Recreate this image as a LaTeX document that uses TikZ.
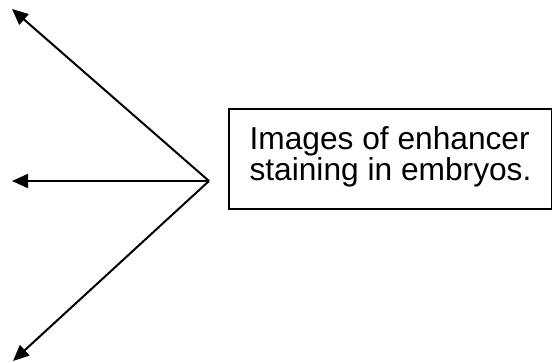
\documentclass[tikz,border=0pt]{standalone}
\usepackage{fontspec}
\setmainfont{Liberation Sans}
\usetikzlibrary{arrows.meta}
\begin{document}
\begin{tikzpicture}[x=1pt,y=-1pt,
  pointer/.style={line width=2pt,-{Triangle[length=16pt,width=14pt]}},
  caption/.style={draw,line width=2pt,rectangle,align=left,
    inner xsep=20pt,inner ysep=0pt,minimum width=323pt,minimum height=100pt,
    font=\fontsize{31.7}{31}\selectfont,text height=54pt,text depth=12pt}]
\useasboundingbox (0,0) rectangle (552,362);
% point where the three arrows meet
\coordinate (hub) at (209,181);
\coordinate (up) at (12,9);
\coordinate (left) at (12,181);
\coordinate (down) at (13,361);
\draw[pointer] (hub) -- (up);
\draw[pointer] (hub) -- (left);
\draw[pointer] (hub) -- (down);
% caption box
\node[caption, anchor=north west] (label) at (228,108) {Images of enhancer\\staining in embryos.};
\end{tikzpicture}
\end{document}
